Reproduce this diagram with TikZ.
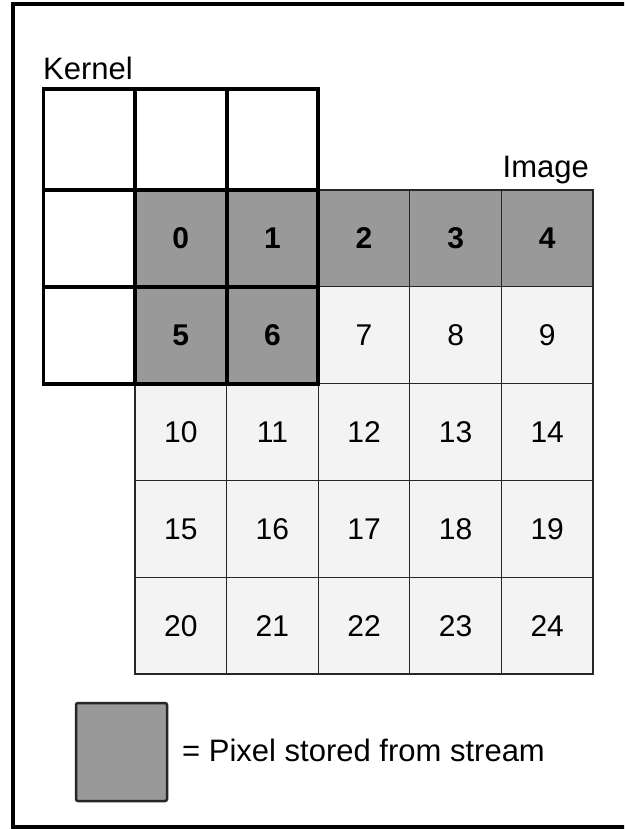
\documentclass[tikz,border=0pt]{standalone}
\usepackage{fontspec}
\setmainfont{Liberation Sans}
\definecolor{stored}{HTML}{999999}
\definecolor{light}{HTML}{F3F3F3}
\begin{document}
\begin{tikzpicture}[x=1pt,y=-1pt,
  cell/.style={draw=black!85, line width=1.3pt, minimum width=91.6pt, minimum height=96.8pt, inner sep=0pt, anchor=center, text height=21pt, text depth=0pt, font=\fontsize{30}{30}\selectfont},
  stored/.style={cell, fill=stored, font=\fontsize{30}{30}\selectfont\bfseries},
  plain/.style={cell, fill=light},
  kcell/.style={draw=black, line width=3.8pt, inner sep=0pt, minimum width=91.6pt, anchor=center},
  lab/.style={font=\fontsize{31}{31}\selectfont, inner sep=0pt},
  legendbox/.style={draw=black!85, fill=stored, line width=2.5pt, rounded corners=2pt, minimum width=91pt, minimum height=98pt, inner sep=0pt}]
\useasboundingbox (0,0) rectangle (624,829);
\begin{scope}
\clip (0,0) rectangle (624,829);
\draw[line width=3.5pt] (13,4) rectangle (640,827);
\end{scope}
% image grid
\foreach \r in {0,...,4}{
  \foreach \c in {0,...,4}{
    \pgfmathtruncatemacro{\n}{5*\r+\c}
    \pgfmathsetmacro{\cx}{135+91.6*(\c+0.5)}
    \pgfmathsetmacro{\cy}{190+96.8*(\r+0.5)}
    \ifnum\n<7
      \node[stored] (i\n) at (\cx,\cy) {\n};
    \else
      \node[plain] (i\n) at (\cx,\cy) {\n};
    \fi
  }
}
% kernel
\node[kcell, minimum height=101pt, fill=white] (k0) at (89.2,139.5) {};
\node[kcell, minimum height=101pt, fill=white] (k1) at (180.8,139.5) {};
\node[kcell, minimum height=101pt, fill=white] (k2) at (272.4,139.5) {};
\node[kcell, minimum height=96.8pt, fill=white] (k3) at (89.2,238.4) {};
\node[kcell, minimum height=96.8pt] (k4) at (180.8,238.4) {};
\node[kcell, minimum height=96.8pt] (k5) at (272.4,238.4) {};
\node[kcell, minimum height=96.8pt, fill=white] (k6) at (89.2,335.2) {};
\node[kcell, minimum height=96.8pt] (k7) at (180.8,335.2) {};
\node[kcell, minimum height=96.8pt] (k8) at (272.4,335.2) {};
% labels
\node[lab, anchor=base west] (kl) at (43,80) {Kernel};
\node[lab, anchor=base east] (il) at (589,178) {Image};
% legend
\node[legendbox] (lg) at (121.5,752) {};
\node[lab, anchor=base west] (lt) at (182,761) {= Pixel stored from stream};
\end{tikzpicture}
\end{document}
